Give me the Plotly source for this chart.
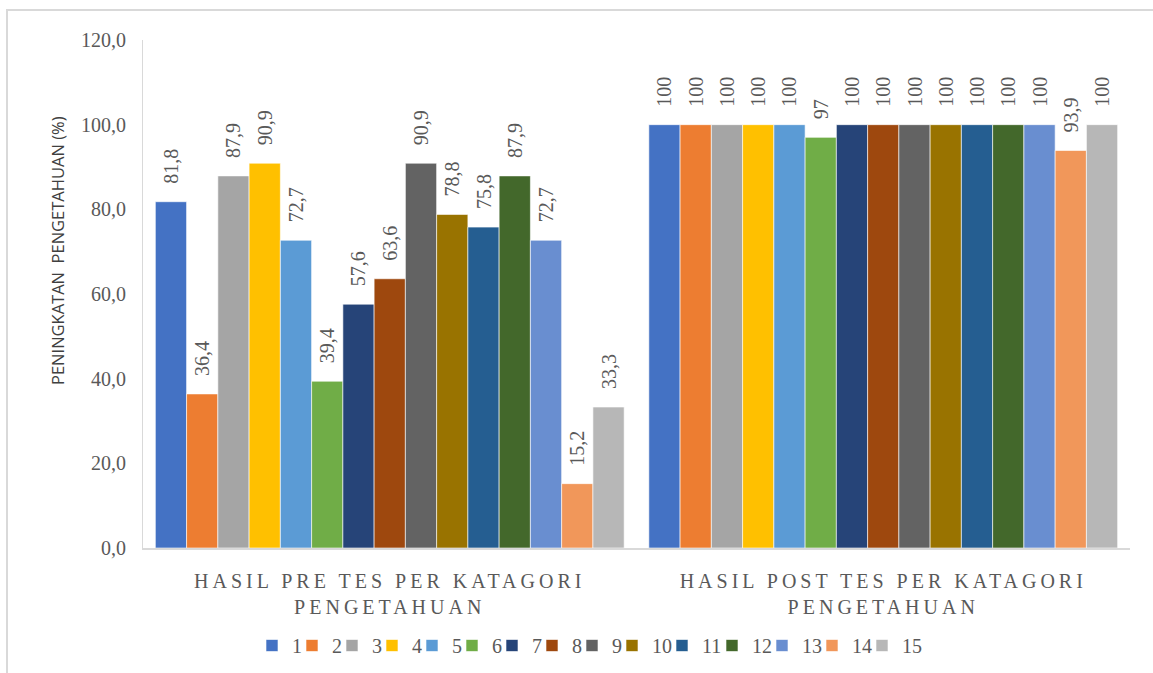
import plotly.graph_objects as go

categories = ["HASIL PRE TES PER KATAGORI<br>PENGETAHUAN", "HASIL POST TES PER KATAGORI<br>PENGETAHUAN"]
series_names = [str(i) for i in range(1, 16)]
pre_values = [81.8, 36.4, 87.9, 90.9, 72.7, 39.4, 57.6, 63.6, 90.9, 78.8, 75.8, 87.9, 72.7, 15.2, 33.3]
post_values = [100, 100, 100, 100, 100, 97, 100, 100, 100, 100, 100, 100, 100, 93.9, 100]
colors = ["#4472C4", "#ED7D31", "#A5A5A5", "#FFC000", "#5B9BD5", "#70AD47", "#264478",
          "#9E480E", "#636363", "#997300", "#255E91", "#43682B", "#698ED0", "#F1975A", "#B7B7B7"]
y_ticks = [0, 20, 40, 60, 80, 100, 120]


def fmt(v):
    if float(v).is_integer():
        s = str(int(v))
    else:
        s = ("%.1f" % v).replace(".", ",")
    return "\u00a0\u00a0\u00a0" + s


W, H = 1153, 673
L, R, T, B = 143, 1130, 40, 548
SERIF = "Liberation Serif"


def px2x(p):
    return (p - L) / (R - L)


def px2y(p):
    return (B - p) / (B - T)


fig = go.Figure()
legend_layout = {}
sq = 271  # centre of first legend swatch (px)
for i, name in enumerate(series_names):
    vals = [pre_values[i], post_values[i]]
    key = "legend" if i == 0 else "legend%d" % (i + 1)
    fig.add_trace(go.Bar(
        x=categories, y=vals, name=name,
        legend=key,
        marker=dict(color=colors[i], line=dict(width=0.6, color="white")),
        text=[fmt(v) for v in vals],
        textposition="outside", textangle=-90, constraintext="none",
        textfont=dict(family=SERIF, size=20, color="#595959"),
        cliponaxis=False,
    ))
    legend_layout[key] = dict(orientation="h", xanchor="left", x=px2x(sq - 19),
                              y=px2y(626), yanchor="top", bgcolor="rgba(0,0,0,0)",
                              font=dict(family=SERIF, size=20, color="#595959"),
                              itemwidth=30)
    sq += 40 if len(name) == 1 else 50

fig.add_shape(type="rect", xref="paper", yref="paper",
              x0=px2x(7), x1=px2x(1170), y0=px2y(690), y1=px2y(10),
              line=dict(color="#D9D9D9", width=2), fillcolor="rgba(0,0,0,0)", layer="below")

fig.add_annotation(xref="paper", yref="paper", x=px2x(57), y=px2y(251),
                   xanchor="center", yanchor="middle",
                   text="PENINGKATAN  PENGETAHUAN (%)", textangle=-90, showarrow=False,
                   font=dict(family="Open Sans", size=16.5, color="#404040"))

tick_text = ['<span style="letter-spacing:4px">' + c.replace("<br>", '</span><br><span style="letter-spacing:4px">') + "</span>"
             for c in categories]

fig.update_layout(
    width=W, height=H,
    margin=dict(l=L, r=W - R, t=T, b=H - B, autoexpand=False),
    paper_bgcolor="white", plot_bgcolor="white",
    barmode="group", bargap=0.05, bargroupgap=0,
    separators=",.",
    showlegend=True,
    xaxis=dict(showline=True, linecolor="#D9D9D9", linewidth=2, ticks="",
               tickmode="array", tickvals=categories, ticktext=tick_text,
               tickfont=dict(family=SERIF, size=20, color="#595959"),
               ticklabelstandoff=14, showgrid=False),
    yaxis=dict(range=[0, 120], tickvals=y_ticks, tickformat=".1f",
               showline=True, linecolor="#D9D9D9", linewidth=1, ticks="",
               showgrid=False, zeroline=False,
               tickfont=dict(family=SERIF, size=20, color="#595959"),
               ticklabelstandoff=12),
    **legend_layout,
)

fig.write_html("out.html")
